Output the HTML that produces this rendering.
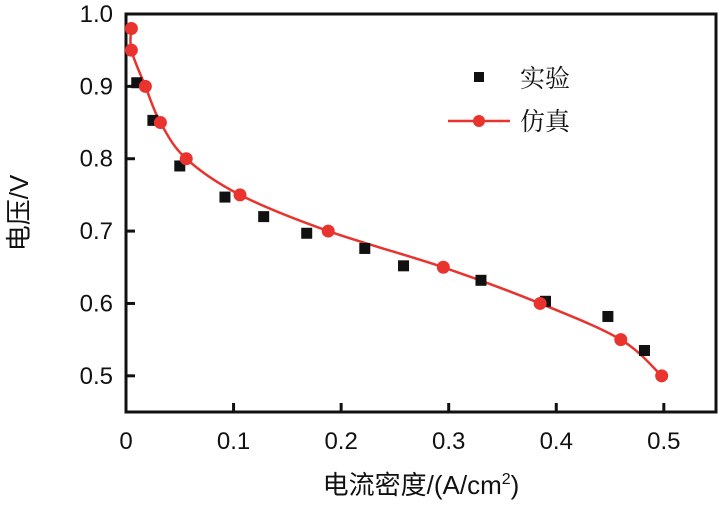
<!DOCTYPE html>
<html><head><meta charset="utf-8"><style>
body{margin:0;background:#fff}
svg text{font-family:"Liberation Sans","Noto Sans CJK SC",sans-serif;fill:#111}
</style></head><body>
<svg id="chart" width="725" height="502" viewBox="0 0 725 502" xmlns="http://www.w3.org/2000/svg">
<g id="axes"></g>
<g id="marks"></g>
<g>
<rect x="474" y="72" width="10" height="10" fill="#111"/>
<text x="520" y="87" font-size="25" style="font-family:'Noto Serif CJK SC',serif">实验</text>
<line x1="448" y1="121" x2="510" y2="121" stroke="#e8332e" stroke-width="2.5"/>
<circle cx="479" cy="121" r="6" fill="#e8332e"/>
<text x="520" y="130" font-size="25" style="font-family:'Noto Serif CJK SC',serif">仿真</text>
</g>
</svg>
<script>
const expX=[0.010,0.025,0.050,0.092,0.128,0.168,0.222,0.258,0.330,0.390,0.448,0.482];
const expY=[0.905,0.853,0.790,0.747,0.720,0.697,0.676,0.652,0.632,0.603,0.582,0.535];
const simX=[0.005,0.005,0.018,0.032,0.056,0.106,0.188,0.295,0.385,0.460,0.498];
const simY=[0.980,0.950,0.900,0.850,0.800,0.750,0.700,0.650,0.600,0.550,0.500];
const xTicks=[0,0.1,0.2,0.3,0.4,0.5];
const yTicks=[0.5,0.6,0.7,0.8,0.9,1.0];
const xTickLabels=["0","0.1","0.2","0.3","0.4","0.5"];
const yTickLabels=["0.5","0.6","0.7","0.8","0.9","1.0"];
const L=126,R=716,T=14,B=412;
const xMin=0,xMax=0.5485,yMin=0.45,yMax=1.0;
const sx=v=>L+(v-xMin)/(xMax-xMin)*(R-L);
const sy=v=>B-(v-yMin)/(yMax-yMin)*(B-T);
const NS="http://www.w3.org/2000/svg";
function mk(tag,attrs,parent){const e=document.createElementNS(NS,tag);for(const k in attrs)e.setAttribute(k,attrs[k]);parent.appendChild(e);return e;}
const axes=document.getElementById('axes'),marks=document.getElementById('marks');
const frame=mk('rect',{x:L,y:T,width:R-L,height:B-T,fill:'none',stroke:'#111','stroke-width':3},axes);


xTicks.forEach((v,i)=>{
  if(v>0){const t=mk('line',{x1:sx(v),x2:sx(v),y1:B,y2:B-9,stroke:'#111','stroke-width':3},axes);
  
  }
  const tx=mk('text',{x:sx(v),y:449,'font-size':24,'text-anchor':'middle'},axes);tx.textContent=xTickLabels[i];
  
  
});
yTicks.forEach((v,i)=>{
  if(v<1){const t=mk('line',{x1:L,x2:L+9,y1:sy(v),y2:sy(v),stroke:'#111','stroke-width':3},axes);
  
  }
  const tx=mk('text',{x:113,y:sy(v)+8,'font-size':24,'text-anchor':'end'},axes);tx.textContent=yTickLabels[i];
  
  
});
const xt=mk('text',{x:421,y:494,'font-size':26,'text-anchor':'middle'},axes);
xt.innerHTML='电流密度/(A/cm<tspan font-size="16" dy="-10">2</tspan><tspan dy="10">)</tspan>';


const yt=mk('text',{x:0,y:0,'font-size':26,'text-anchor':'middle',transform:'translate(28,213) rotate(-90)'},axes);
yt.textContent='电压/V';


const pts=simX.map((x,i)=>[sx(x),sy(simY[i])]);
let d=`M${pts[0][0]},${pts[0][1]}`;
for(let i=0;i<pts.length-1;i++){const p0=pts[Math.max(i-1,0)],p1=pts[i],p2=pts[i+1],p3=pts[Math.min(i+2,pts.length-1)];
d+=` C${p1[0]+(p2[0]-p0[0])/6},${p1[1]+(p2[1]-p0[1])/6} ${p2[0]-(p3[0]-p1[0])/6},${p2[1]-(p3[1]-p1[1])/6} ${p2[0]},${p2[1]}`;}
const line=mk('path',{d:d,fill:'none',stroke:'#e8332e','stroke-width':2.5},marks);


expX.forEach((x,i)=>{const r=mk('rect',{x:sx(x)-5.5,y:sy(expY[i])-5.5,width:11,height:11,fill:'#111'},marks);
  
  });
simX.forEach((x,i)=>{const c=mk('circle',{cx:sx(x),cy:sy(simY[i]),r:6.5,fill:'#e8332e'},marks);
  
  });
</script>
</body></html>
